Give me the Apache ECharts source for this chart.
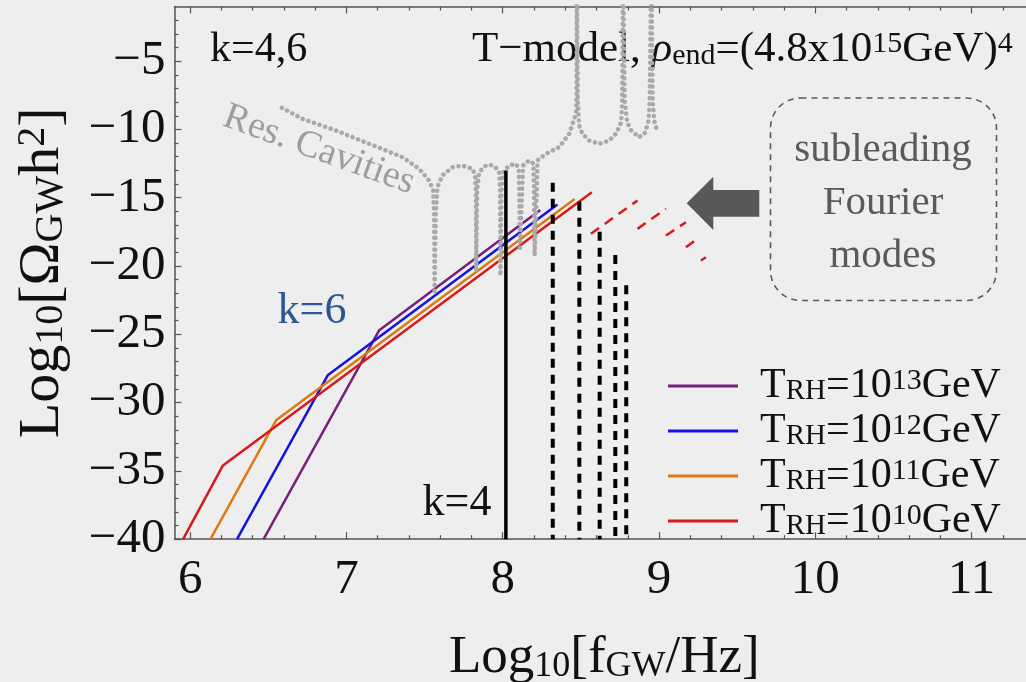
<!DOCTYPE html>
<html>
<head>
<meta charset="utf-8">
<script src="https://cdn.jsdelivr.net/npm/echarts@6/dist/echarts.min.js"></script>
<style>
  html, body { margin: 0; padding: 0; background: #eeeeee; }
  #chart { width: 1026px; height: 682px; }
</style>
</head>
<body>
<div id="chart"></div>
<script>
const FONT = 'Liberation Serif';

// axis ticks
const xMajor = [6, 7, 8, 9, 10, 11];
const xMinor = [6.2, 6.4, 6.6, 6.8, 7.2, 7.4, 7.6, 7.8, 8.2, 8.4, 8.6, 8.8,
  9.2, 9.4, 9.6, 9.8, 10.2, 10.4, 10.6, 10.8, 11.2];
const yMajor = [-40, -35, -30, -25, -20, -15, -10, -5];
const yMinor = [-39, -38, -37, -36, -34, -33, -32, -31, -29, -28, -27, -26,
  -24, -23, -22, -21, -19, -18, -17, -16, -14, -13, -12, -11, -9, -8, -7, -6,
  -4, -3, -2];

// spectra for each reheating temperature: [log10 f, log10 Omega]
const trhNames = ['T13', 'T12', 'T11', 'T10'];
const trhExp = ['13', '12', '11', '10'];
const spec13 = [[6.47, -40], [7.21, -24.7], [8.24, -15.9]];
const spec12 = [[6.30, -40], [6.88, -28.0], [8.35, -15.5]];
const spec11 = [[6.13, -40], [6.55, -31.3], [8.46, -15.1]];
const spec10 = [[5.955, -40], [6.21, -34.6], [8.57, -14.6]];

// k=4 cut-off (solid) and higher modes (dashed)
const k4X = 8.02;
const k4Top = -13.0;
const kDashX = [8.32, 8.49, 8.62, 8.72, 8.79];
const kDashTop = [-13.9, -15.3, -17.5, -19.2, -21.4];

// subleading Fourier modes (red dashed)
const subStart = [[8.564, -17.64], [8.862, -17.28], [9.044, -17.77], [9.172, -18.62], [9.268, -19.6]];
const subEnd = [[8.862, -15.2], [9.044, -15.81], [9.172, -16.79], [9.257, -17.89], [9.300, -19.36]];

// resonant cavities sensitivity curve
const cavity = [
  [6.587, -8.42], [6.718, -9.22], [6.932, -10.08], [7.145, -11.05], [7.358, -12.03],
  [7.465, -12.88], [7.529, -13.74], [7.555, -14.47], [7.561, -16.30], [7.564, -22.04],
  [7.571, -16.30], [7.582, -14.23], [7.614, -13.37], [7.678, -12.77], [7.742, -12.64],
  [7.806, -12.88], [7.823, -13.37], [7.828, -14.47], [7.830, -20.33], [7.836, -14.47],
  [7.849, -13.15], [7.881, -12.72], [7.913, -12.57], [7.951, -12.72], [7.977, -13.15],
  [7.983, -14.47], [7.985, -20.70], [7.992, -14.47], [8.002, -13.15], [8.041, -12.64],
  [8.084, -12.52], [8.102, -12.86], [8.106, -14.47], [8.110, -18.87], [8.124, -14.47],
  [8.130, -12.64], [8.169, -12.27], [8.196, -12.50], [8.200, -14.47], [8.204, -19.23],
  [8.218, -14.47], [8.222, -12.27], [8.276, -11.79], [8.361, -11.30], [8.425, -10.32],
  [8.468, -8.86], [8.472, -7.88], [8.474, 2], [8.480, -7.88], [8.489, -9.71],
  [8.510, -10.32], [8.553, -10.81], [8.617, -11.05], [8.681, -10.81], [8.724, -10.32],
  [8.758, -9.49], [8.764, -7.88], [8.770, 2], [8.780, -7.88], [8.796, -9.49],
  [8.822, -10.08], [8.873, -10.57], [8.911, -10.23], [8.933, -9.35], [8.940, -7.88],
  [8.950, 2], [8.959, -7.88], [8.969, -9.35], [8.990, -10.21]
];

const chart = echarts.init(document.getElementById('chart'));

const axisLineStyle = { color: '#555', width: 1.5 };
const tickStyle = { color: '#555', width: 1.2 };

function xAxisDef(position, major, withLabel) {
  return {
    type: 'value', min: 5.9, max: 11.4, position,
    axisLine: { show: major, lineStyle: axisLineStyle },
    axisTick: { show: true, inside: true, length: major ? 7 : 4, lineStyle: tickStyle,
      customValues: major ? xMajor : xMinor },
    axisLabel: withLabel ? {
      show: true, customValues: xMajor, margin: 16,
      fontFamily: FONT, fontSize: 49, color: '#111',
    } : { show: false },
    splitLine: { show: false },
  };
}

function yAxisDef(major, withLabel) {
  return {
    type: 'value', min: -40, max: -1, position: 'left',
    axisLine: { show: major, lineStyle: axisLineStyle },
    axisTick: { show: true, inside: true, length: major ? 7 : 4, lineStyle: tickStyle,
      customValues: major ? yMajor : yMinor },
    axisLabel: withLabel ? {
      show: true, customValues: yMajor, margin: 9,
      fontFamily: FONT, fontSize: 49, color: '#111',
      formatter: (v) => '\u2212' + Math.abs(v),
    } : { show: false },
    splitLine: { show: false },
  };
}

const xMain = xAxisDef('bottom', true, true);
xMain.name = '{t|Log}{s|10}{t|[f}{s|GW}{t|/Hz]}';
xMain.nameLocation = 'middle';
xMain.nameGap = 92;
xMain.nameTextStyle = {
  rich: {
    t: { fontFamily: FONT, fontSize: 53, color: '#111', lineHeight: 53 },
    s: { fontFamily: FONT, fontSize: 36, color: '#111', lineHeight: 20, verticalAlign: 'bottom' },
  },
};

const yMain = yAxisDef(true, true);
yMain.name = '{t|Log}{s|10}{t|[\u03a9}{s|GW}{t|h}{p|2}{t|]}';
yMain.nameLocation = 'middle';
yMain.nameGap = 103;
yMain.nameRotate = 90;
yMain.nameTextStyle = {
  rich: {
    t: { fontFamily: FONT, fontSize: 58, color: '#111', lineHeight: 58 },
    s: { fontFamily: FONT, fontSize: 40, color: '#111', lineHeight: 22, verticalAlign: 'bottom' },
    p: { fontFamily: FONT, fontSize: 40, color: '#111', lineHeight: 38, verticalAlign: 'top' },
  },
};

const lineColors = ['#7a1f7c', '#1414e0', '#dd7a14', '#d61a1c'];
const specs = [spec13, spec12, spec11, spec10];

const series = specs.map((data, i) => ({
  name: trhNames[i], type: 'line', data, symbol: 'none', z: 3,
  lineStyle: { color: lineColors[i], width: 2.5 }, itemStyle: { color: lineColors[i] },
}));

series.push({
  name: 'cavities', type: 'line', data: cavity, symbol: 'none', z: 4,
  lineStyle: { color: '#a9a9a9', width: 4.5, type: [0.1, 5.8], cap: 'round', join: 'round' },
});

subStart.forEach((p, i) => {
  series.push({
    name: 'sub' + i, type: 'line', data: [p, subEnd[i]], symbol: 'none', z: 4,
    lineStyle: { color: '#d61a1c', width: 2.5, type: [10, 7] },
  });
});

series.push({
  name: 'k4', type: 'line', data: [[k4X, k4Top], [k4X, -40]], symbol: 'none', z: 5,
  lineStyle: { color: '#000', width: 3.5 },
});

kDashX.forEach((x, i) => {
  series.push({
    name: 'kd' + i, type: 'line', data: [[x, kDashTop[i]], [x, -40]], symbol: 'none', z: 5,
    lineStyle: { color: '#000', width: 4, type: [9, 7] },
  });
});

const legendRich = {
  t: { fontFamily: FONT, fontSize: 42, color: '#111', lineHeight: 40 },
  f: { fontFamily: FONT, fontSize: 42, color: '#111', lineHeight: 40, padding: [0, 0, 0, 17] },
  s: { fontFamily: FONT, fontSize: 29, color: '#111', lineHeight: 16, verticalAlign: 'bottom' },
  p: { fontFamily: FONT, fontSize: 30, color: '#111', lineHeight: 28, verticalAlign: 'top' },
};

const titleRich = {
  t: { fontFamily: FONT, fontSize: 43, fill: '#111', lineHeight: 42 },
  r: { fontFamily: FONT, fontSize: 43, fill: '#111', lineHeight: 42, fontStyle: 'italic' },
  s: { fontFamily: FONT, fontSize: 30, fill: '#111', lineHeight: 18, verticalAlign: 'bottom' },
  p: { fontFamily: FONT, fontSize: 30, fill: '#111', lineHeight: 30, verticalAlign: 'top' },
};

const option = {
  backgroundColor: '#eeeeee',
  animation: false,
  grid: { left: 174.5, top: 6.5, width: 859.7, height: 532.7, outerBoundsMode: 'none', containLabel: false },
  xAxis: [xMain, xAxisDef('bottom', false, false), xAxisDef('top', true, false), xAxisDef('top', false, false)],
  yAxis: [yMain, yAxisDef(false, false)],
  legend: {
    orient: 'vertical', left: 663, top: 360, itemGap: 3,
    itemWidth: 70, itemHeight: 3, icon: 'rect',
    data: trhNames,
    formatter: (name) => '{f|T}{s|RH}{t|=10}{p|' + trhExp[trhNames.indexOf(name)] + '}{t|GeV}',
    textStyle: { rich: legendRich },
  },
  series,
  graphic: [
    { type: 'text', x: 210, y: 50, style: { text: 'k=4,6', fontFamily: FONT, fontSize: 42, fill: '#111', verticalAlign: 'middle' } },
    { type: 'text', x: 472, y: 50, style: {
      text: '{t|T\u2212model, }{r|\u03c1}{s|end}{t|=(4.8x10}{p|15}{t|GeV)}{p|4}',
      rich: titleRich, verticalAlign: 'middle' } },
    { type: 'text', x: 319, y: 150, rotation: -20 * Math.PI / 180, style: {
      text: 'Res. Cavities', fontFamily: FONT, fontSize: 38, fill: '#9d9d9d', align: 'center', verticalAlign: 'middle' } },
    { type: 'text', x: 312, y: 311, style: { text: 'k=6', fontFamily: FONT, fontSize: 44, fill: '#2b5796', align: 'center', verticalAlign: 'middle' } },
    { type: 'text', x: 457, y: 503, style: { text: 'k=4', fontFamily: FONT, fontSize: 44, fill: '#111', align: 'center', verticalAlign: 'middle' } },
    { type: 'rect', shape: { x: 770.5, y: 98, width: 226, height: 202.5, r: 30 },
      style: { fill: 'none', stroke: '#5a5a5a', lineWidth: 1.6, lineDash: [6, 5] } },
    { type: 'text', x: 883, y: 203, style: {
      text: 'subleading\nFourier\nmodes', fontFamily: FONT, fontSize: 41, lineHeight: 53,
      fill: '#5a5a5a', align: 'center', verticalAlign: 'middle' } },
    { type: 'polygon', shape: { points: [[686.7, 203.3], [713.3, 176.7], [713.3, 190], [759.3, 190],
      [759.3, 216.7], [713.3, 216.7], [713.3, 230]] }, style: { fill: '#595959' } },
  ],
};

chart.setOption(option);
</script>
</body>
</html>
